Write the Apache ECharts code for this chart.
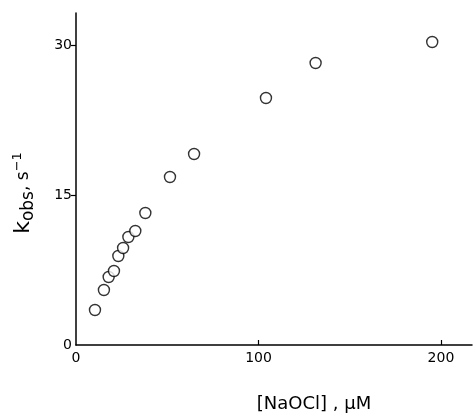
<!DOCTYPE html>
<html>
<head>
<meta charset="utf-8">
<script src="https://cdn.jsdelivr.net/npm/echarts@6/dist/echarts.min.js"></script>
<style>html,body{margin:0;padding:0;background:#fff;}#c{width:473px;height:416px;}</style>
</head>
<body>
<div id="c"></div>
<script>
const naocl = [10.4, 15.3, 17.9, 20.8, 23.2, 25.8, 28.7, 32.5, 38.0, 51.5, 64.7, 104.1, 131.3, 195.2];
const kobs = [3.5, 5.5, 6.8, 7.4, 8.9, 9.7, 10.8, 11.4, 13.2, 16.8, 19.1, 24.7, 28.2, 30.3];
const xTicks = [0, 100, 200];
const yTicks = [0, 15, 30];

const chart = echarts.init(document.getElementById('c'));
const font = 'DejaVu Sans';
chart.setOption({
  animation: false,
  backgroundColor: '#fff',
  grid: {left: 76, top: 13, right: 1, bottom: 71, containLabel: false, outerBoundsMode: 'none'},
  xAxis: {
    type: 'value', min: 0, max: 217, interval: 100,
    splitLine: {show: false},
    axisLine: {lineStyle: {color: '#000', width: 1.5}},
    axisTick: {inside: true, length: 5, lineStyle: {color: '#000', width: 1.2}, customValues: [100, 200]},
    axisLabel: {customValues: xTicks, color: '#000', fontFamily: font, fontSize: 14, margin: 6},
    name: '[NaOCl] , \u03bcM', nameLocation: 'middle', nameGap: 50,
    nameTextStyle: {color: '#000', fontFamily: font, fontSize: 18, padding: [0, 0, 0, 80]}
  },
  yAxis: {
    type: 'value', min: 0, max: 33.2, interval: 15,
    splitLine: {show: false},
    axisLine: {lineStyle: {color: '#000', width: 1.5}},
    axisTick: {inside: false, length: 5, lineStyle: {color: '#000', width: 1.2}, customValues: [15, 30]},
    axisLabel: {customValues: yTicks, color: '#000', fontFamily: font, fontSize: 14, margin: 4},
    name: '{k|k}{sub|obs}{k2|, s}{sup|\u22121}', nameLocation: 'middle', nameGap: 39,
    nameTextStyle: {
      color: '#000', fontFamily: font, fontSize: 18, padding: [0, 28, 0, 0],
      rich: {
        k: {fontFamily: font, fontSize: 22, color: '#000'},
        sub: {fontFamily: font, fontSize: 17, color: '#000', padding: [10, 0, 0, 0]},
        k2: {fontFamily: font, fontSize: 17, color: '#000'},
        sup: {fontFamily: font, fontSize: 13, color: '#000', padding: [0, 0, 12, 0]}
      }
    }
  },
  series: [{
    type: 'scatter',
    data: naocl.map((x, i) => [x, kobs[i]]),
    symbol: 'circle', symbolSize: 11,
    itemStyle: {color: '#fff', borderColor: '#000', borderWidth: 1.4}
  }]
});
</script>
</body>
</html>
